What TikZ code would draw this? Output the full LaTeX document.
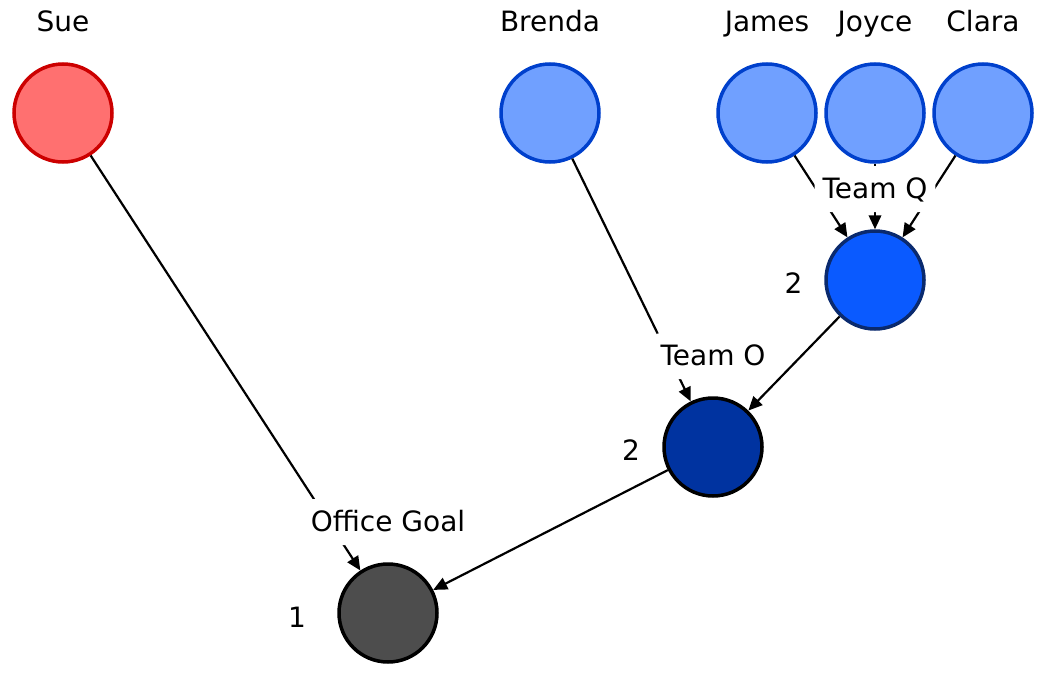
\documentclass[tikz,border=0pt]{standalone}
\usepackage{fontspec}
\setmainfont{DejaVu Sans}
\usetikzlibrary{arrows.meta}
\definecolor{suefill}{HTML}{FF7070}
\definecolor{sueborder}{HTML}{CC0000}
\definecolor{lbfill}{HTML}{70A0FF}
\definecolor{lbborder}{HTML}{0040CC}
\definecolor{qfill}{HTML}{0A5AFF}
\definecolor{qborder}{HTML}{0A2A6E}
\definecolor{ofill}{HTML}{0033A0}
\definecolor{gfill}{HTML}{4D4D4D}
\tikzset{
  person/.style={circle, minimum size=98pt, inner sep=0pt, line width=3.5pt},
  txt/.style={font=\fontsize{28}{32}\selectfont, inner sep=0pt, anchor=base},
  grouplabel/.style={font=\fontsize{28}{32}\selectfont, fill=white, rounded corners=8pt,
    inner xsep=8pt, inner ysep=8pt, text height=24pt, text depth=6pt},
  edge/.style={line width=2.2pt, -{Triangle[length=14pt,width=12.5pt]}}
}
\begin{document}
\begin{tikzpicture}[x=1pt,y=-1pt]
\useasboundingbox (0,0) rectangle (1046,677);
% nodes
\node[person, fill=suefill, draw=sueborder] (sue) at (63,113) {};
\node[person, fill=lbfill, draw=lbborder] (brenda) at (550,113) {};
\node[person, fill=lbfill, draw=lbborder] (james) at (767,113) {};
\node[person, fill=lbfill, draw=lbborder] (joyce) at (875,113) {};
\node[person, fill=lbfill, draw=lbborder] (clara) at (983,113) {};
\node[person, fill=qfill, draw=qborder] (teamq) at (875,280) {};
\node[person, fill=ofill, draw=black] (teamo) at (713,447) {};
\node[person, fill=gfill, draw=black] (office) at (388,613) {};
% edges
\draw[edge] (sue) -- (office);
\draw[edge] (brenda) -- (teamo);
\draw[edge] (james) -- (teamq);
\draw[edge] (joyce) -- (teamq);
\draw[edge] (clara) -- (teamq);
\draw[edge] (teamq) -- (teamo);
\draw[edge] (teamo) -- (office);
% group labels
\node[grouplabel] (lq) at (875,189) {Team Q};
\node[grouplabel] (lo) at (713,356) {Team O};
\node[grouplabel] (lg) at (388,522) {Office Goal};
% names
\node[txt] (nsue) at (63,31.5) {Sue};
\node[txt] (nbrenda) at (550,31.5) {Brenda};
\node[txt] (njames) at (767,31.5) {James};
\node[txt] (njoyce) at (875,31.5) {Joyce};
\node[txt] (nclara) at (983,31.5) {Clara};
% numbers
\node[txt] (numq) at (793.5,293) {2};
\node[txt] (numo) at (631,460) {2};
\node[txt] (numg) at (297,627) {1};
\end{tikzpicture}
\end{document}
